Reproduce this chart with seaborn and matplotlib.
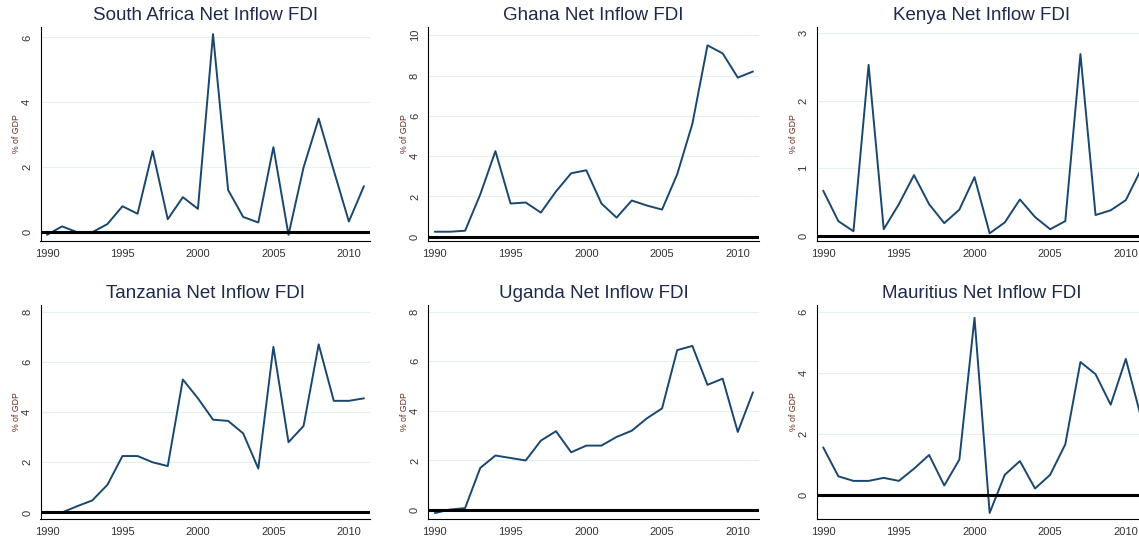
import numpy as np
import pandas as pd
import matplotlib
matplotlib.use("Agg")
import matplotlib.pyplot as plt
import seaborn as sns

years = list(range(1990, 2012))

south_africa = [-0.08, 0.18, 0.0, 0.0, 0.25, 0.8, 0.57, 2.5, 0.4, 1.08, 0.72,
                6.1, 1.3, 0.47, 0.3, 2.62, -0.08, 2.0, 3.5, 1.9, 0.33, 1.42]
ghana = [0.25, 0.25, 0.3, 2.1, 4.25, 1.65, 1.7, 1.2, 2.25, 3.15, 3.3,
         1.65, 0.95, 1.8, 1.55, 1.35, 3.1, 5.6, 9.5, 9.1, 7.9, 8.2]
kenya = [0.67, 0.22, 0.07, 2.53, 0.1, 0.47, 0.9, 0.47, 0.19, 0.39, 0.87,
         0.04, 0.2, 0.54, 0.28, 0.1, 0.22, 2.69, 0.31, 0.38, 0.53, 0.98]
tanzania = [0.0, 0.0, 0.25, 0.48, 1.1, 2.25, 2.25, 2.0, 1.85, 5.3, 4.55,
            3.7, 3.65, 3.15, 1.75, 6.6, 2.8, 3.45, 6.7, 4.45, 4.45, 4.55]
uganda = [-0.12, 0.02, 0.08, 1.7, 2.2, 2.1, 2.0, 2.8, 3.18, 2.33, 2.6,
          2.6, 2.95, 3.2, 3.7, 4.1, 6.45, 6.62, 5.05, 5.3, 3.15, 4.75]
mauritius = [1.55, 0.6, 0.45, 0.45, 0.55, 0.45, 0.85, 1.3, 0.3, 1.15, 5.8,
             -0.6, 0.65, 1.1, 0.2, 0.65, 1.65, 4.35, 3.95, 2.95, 4.45, 2.55]

countries = ["South Africa", "Ghana", "Kenya", "Tanzania", "Uganda", "Mauritius"]
series = [south_africa, ghana, kenya, tanzania, uganda, mauritius]
yticks = [[0, 2, 4, 6], [0, 2, 4, 6, 8, 10], [0, 1, 2, 3],
          [0, 2, 4, 6, 8], [0, 2, 4, 6, 8], [0, 2, 4, 6]]
ylims = [(-0.27, 6.32), (-0.21, 10.41), (-0.074, 3.09),
         (-0.26, 8.27), (-0.36, 8.27), (-0.8, 6.22)]

df = pd.concat([pd.DataFrame({"year": years, "fdi": v, "country": c})
                for c, v in zip(countries, series)])

sns.set_style("white")
plt.rcParams["font.family"] = ["Liberation Sans", "DejaVu Sans"]

fig = plt.figure(figsize=(11.39, 5.42), dpi=100)
W, H = 1139, 542
lefts = [40.5, 428.3, 816.7]
rights = [370, 759, 1147]
tops = [27, 305]
bottoms = [241, 519]

navy = "#1a476f"
for i, country in enumerate(countries):
    r, c = divmod(i, 3)
    ax = fig.add_axes([lefts[c] / W, 1 - bottoms[r] / H,
                       (rights[c] - lefts[c]) / W, (bottoms[r] - tops[r]) / H])
    # faint horizontal grid like stata's s2color
    for t in yticks[i][1:]:
        ax.axhline(t, color="#e6eff1", lw=0.8, zorder=0)
    sns.lineplot(data=df[df["country"] == country], x="year", y="fdi",
                 color=navy, lw=1.4, ax=ax, zorder=3)
    ax.axhline(0, color="black", lw=2.2, zorder=4)
    ax.set_xlim(1989.57, 2011.4)
    ax.set_ylim(*ylims[i])
    ax.set_xticks([1990, 1995, 2000, 2005, 2010])
    ax.set_yticks(yticks[i])
    ax.tick_params(axis="both", direction="out", length=4, width=0.8,
                   colors="#333333", labelsize=8, pad=2)
    ax.tick_params(axis="y", labelrotation=90)
    for lab in ax.get_yticklabels():
        lab.set_va("center")
    ax.set_xlabel("")
    ax.set_ylabel("% of GDP", fontsize=6.3, color="#6b2e1f", labelpad=0.5)
    ax.set_title(f"{country} Net Inflow FDI", fontsize=13.5,
                 color="#1e2a4a", pad=5)
    for s in ["top", "right"]:
        ax.spines[s].set_visible(False)
    for s in ["left", "bottom"]:
        ax.spines[s].set_color("black")
        ax.spines[s].set_linewidth(0.8)
    ax.set_facecolor("white")

fig.savefig("out.png", dpi=100, facecolor="white")
